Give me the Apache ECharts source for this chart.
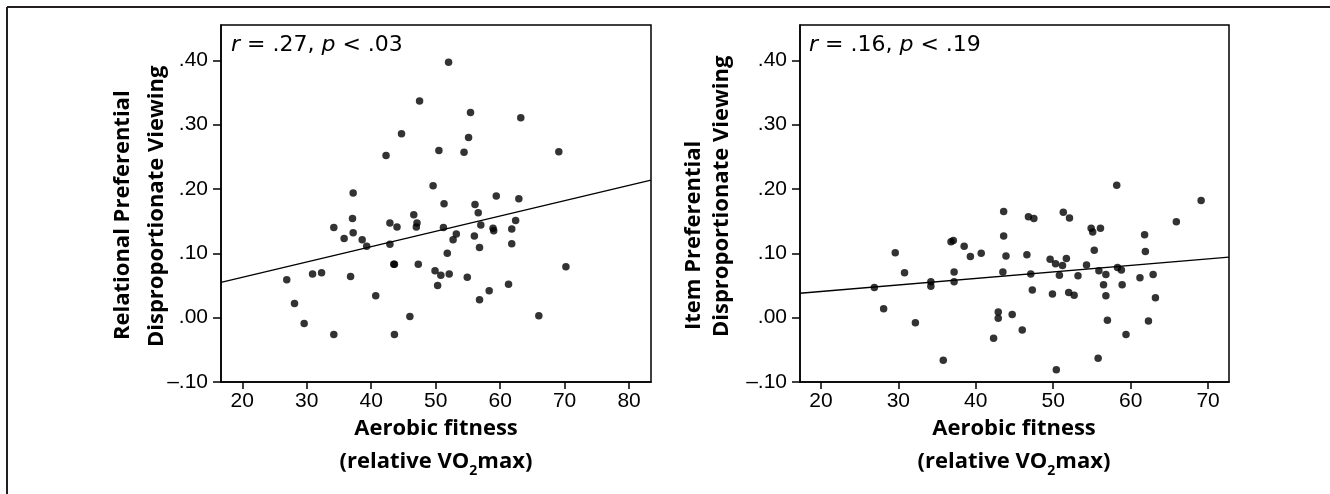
<!DOCTYPE html>
<html>
<head>
<meta charset="utf-8">
<script src="https://cdn.jsdelivr.net/npm/echarts@6/dist/echarts.min.js"></script>
<style>
  body { margin: 0; background: #fff; }
  #chart { width: 1330px; height: 494px; }
</style>
</head>
<body>
<div id="chart"></div>
<script>
// relational viewing vs aerobic fitness (left panel)
var relFitness = [26.9, 28.1, 29.6, 30.9, 32.3, 34.2, 34.2, 35.8, 36.8, 37.2, 37.1, 37.2, 38.6, 39.3, 40.7, 42.3,
  42.9, 42.9, 44.0, 43.5, 43.6, 43.6, 44.7, 46.0, 46.6, 47.1, 47.0, 47.3, 47.5, 49.6, 49.9, 50.5,
  50.3, 50.8, 51.3, 51.2, 51.8, 52.0, 52.1, 52.7, 53.2, 54.4, 54.9, 55.1, 55.4, 56.0, 56.1, 56.6,
  57.0, 56.8, 56.8, 58.3, 58.9, 59.0, 59.4, 61.3, 61.8, 61.8, 62.4, 62.9, 63.2, 66.0, 69.1, 70.2];
var relViewing = [0.059, 0.022, -0.009, 0.068, 0.070, 0.140, -0.026, 0.123, 0.064, 0.194, 0.154, 0.132, 0.121, 0.111, 0.034, 0.252,
  0.147, 0.114, 0.141, 0.083, 0.083, -0.026, 0.286, 0.002, 0.160, 0.147, 0.141, 0.083, 0.337, 0.205, 0.073, 0.260,
  0.050, 0.066, 0.177, 0.140, 0.100, 0.397, 0.068, 0.121, 0.130, 0.257, 0.063, 0.280, 0.319, 0.127, 0.176, 0.163,
  0.144, 0.109, 0.028, 0.042, 0.139, 0.135, 0.189, 0.052, 0.138, 0.115, 0.151, 0.185, 0.311, 0.003, 0.258, 0.079];
var relFitX = [16.7, 83.4];
var relFitY = [0.055, 0.214];

// item viewing vs aerobic fitness (right panel)
var itemFitness = [26.9, 28.1, 29.6, 30.8, 32.2, 34.2, 34.2, 35.8, 36.8, 37.1, 37.2, 37.2, 38.5, 39.3, 40.7, 42.3,
  42.9, 42.9, 43.5, 43.6, 43.6, 43.9, 44.7, 46.0, 46.6, 46.8, 47.5, 47.1, 47.3, 49.6, 49.9, 50.3,
  50.4, 50.8, 51.2, 51.3, 51.7, 52.0, 52.1, 52.7, 53.2, 54.3, 54.9, 55.1, 55.3, 55.8, 55.9, 56.1,
  56.5, 56.8, 56.8, 57.0, 58.2, 58.3, 58.8, 58.9, 59.4, 61.2, 61.8, 61.9, 62.3, 62.9, 63.2, 65.9, 69.1];
var itemViewing = [0.047, 0.014, 0.101, 0.070, -0.008, 0.056, 0.049, -0.066, 0.118, 0.120, 0.071, 0.056, 0.111, 0.095, 0.100, -0.032,
  0.009, -0.001, 0.071, 0.165, 0.127, 0.096, 0.005, -0.019, 0.098, 0.157, 0.154, 0.068, 0.043, 0.091, 0.037, 0.084,
  -0.081, 0.066, 0.081, 0.164, 0.092, 0.039, 0.155, 0.035, 0.065, 0.082, 0.139, 0.133, 0.105, -0.063, 0.073, 0.139,
  0.051, 0.067, 0.034, -0.004, 0.206, 0.078, 0.074, 0.051, -0.026, 0.062, 0.129, 0.103, -0.005, 0.067, 0.031, 0.149, 0.182];
var itemFitX = [17.3, 72.7];
var itemFitY = [0.038, 0.094];

var relXTicks = [20, 30, 40, 50, 60, 70, 80];
var itemXTicks = [20, 30, 40, 50, 60, 70];
var yTicks = [-0.1, 0, 0.1, 0.2, 0.3, 0.4];
var yTickLabels = ['\u2013.10', '.00', '.10', '.20', '.30', '.40'];

function pairs(xs, ys) {
  return xs.map(function (x, i) { return [x, ys[i]]; });
}

function yLabel(v) {
  for (var i = 0; i < yTicks.length; i++) {
    if (Math.abs(yTicks[i] - v) < 1e-6) return yTickLabels[i];
  }
  return '';
}

var black = '#000';
var tickFont = 'Liberation Sans, Arial, sans-serif';
var titleFont = 'Open Sans, sans-serif';

function xAxisFor(idx, min, max, ticks) {
  return {
    type: 'value', gridIndex: idx, min: min, max: max,
    axisLine: { show: true, onZero: false, lineStyle: { color: black, width: 1.5 } },
    axisTick: { show: true, customValues: ticks, length: 7, lineStyle: { color: black, width: 1.5 } },
    axisLabel: { customValues: ticks, color: black, fontSize: 21, fontFamily: tickFont, margin: 9 },
    splitLine: { show: false }
  };
}

function yAxisFor(idx) {
  return {
    type: 'value', gridIndex: idx, min: -0.1, max: 0.455,
    axisLine: { show: true, onZero: false, lineStyle: { color: black, width: 1.5 } },
    axisTick: { show: true, customValues: yTicks, length: 8, lineStyle: { color: black, width: 1.5 } },
    axisLabel: { customValues: yTicks, color: black, fontSize: 21, fontFamily: tickFont, margin: 13, formatter: yLabel },
    splitLine: { show: false }
  };
}

function vText(x, y, str) {
  return {
    type: 'text', x: x, y: y, rotation: Math.PI / 2,
    style: { text: str, fill: black, font: 'bold 22px ' + titleFont, textAlign: 'left', textVerticalAlign: 'middle' }
  };
}

function xTitle(cx) {
  return {
    type: 'text', x: cx, y: 412,
    style: {
      text: '{a|Aerobic fitness}\n{a|(relative VO}{s|2}{a|max)}',
      textAlign: 'center', textVerticalAlign: 'top', fill: black,
      rich: {
        a: { fontSize: 22, fontWeight: 'bold', fontFamily: titleFont, lineHeight: 33, fill: black },
        s: { fontSize: 14, fontWeight: 'bold', fontFamily: titleFont, lineHeight: 14, verticalAlign: 'bottom', fill: black }
      }
    }
  };
}

function stat(x, rv, pv) {
  var f = 'DejaVu Sans, Verdana, sans-serif';
  return {
    type: 'text', x: x, y: 45,
    style: {
      text: '{i|r}{n| = ' + rv + ', }{i|p}{n| < ' + pv + '}',
      textAlign: 'left', textVerticalAlign: 'middle',
      rich: {
        i: { fontSize: 22, fontStyle: 'italic', fontFamily: f, fill: black },
        n: { fontSize: 22, fontFamily: f, fill: black }
      }
    }
  };
}

var chart = echarts.init(document.getElementById('chart'));
chart.setOption({
  animation: false,
  backgroundColor: '#fff',
  grid: [
    { left: 221, top: 25, width: 430, height: 357, show: true, borderColor: black, borderWidth: 1.5, containLabel: false },
    { left: 800, top: 25, width: 429, height: 357, show: true, borderColor: black, borderWidth: 1.5, containLabel: false }
  ],
  xAxis: [xAxisFor(0, 16.7, 83.4, relXTicks), xAxisFor(1, 17.3, 72.7, itemXTicks)],
  yAxis: [yAxisFor(0), yAxisFor(1)],
  series: [
    { type: 'scatter', xAxisIndex: 0, yAxisIndex: 0, data: pairs(relFitness, relViewing),
      symbolSize: 7.5, itemStyle: { color: black } },
    { type: 'line', xAxisIndex: 0, yAxisIndex: 0, data: pairs(relFitX, relFitY),
      symbol: 'none', lineStyle: { color: black, width: 1.3 } },
    { type: 'scatter', xAxisIndex: 1, yAxisIndex: 1, data: pairs(itemFitness, itemViewing),
      symbolSize: 7.5, itemStyle: { color: black } },
    { type: 'line', xAxisIndex: 1, yAxisIndex: 1, data: pairs(itemFitX, itemFitY),
      symbol: 'none', lineStyle: { color: black, width: 1.3 } }
  ],
  graphic: [
    // outer frame: top and left edges only
    { type: 'line', shape: { x1: 7, y1: 7, x2: 1330, y2: 7 }, style: { stroke: '#231f20', lineWidth: 2 } },
    { type: 'line', shape: { x1: 7, y1: 7, x2: 7, y2: 494 }, style: { stroke: '#231f20', lineWidth: 2 } },
    vText(123, 340, 'Relational Preferential'),
    vText(157, 347, 'Disproportionate Viewing'),
    vText(694, 330, 'Item Preferential'),
    vText(722, 337, 'Disproportionate Viewing'),
    xTitle(436),
    xTitle(1014),
    stat(231, '.27', '.03'),
    stat(809, '.16', '.19')
  ]
});
</script>
</body>
</html>
